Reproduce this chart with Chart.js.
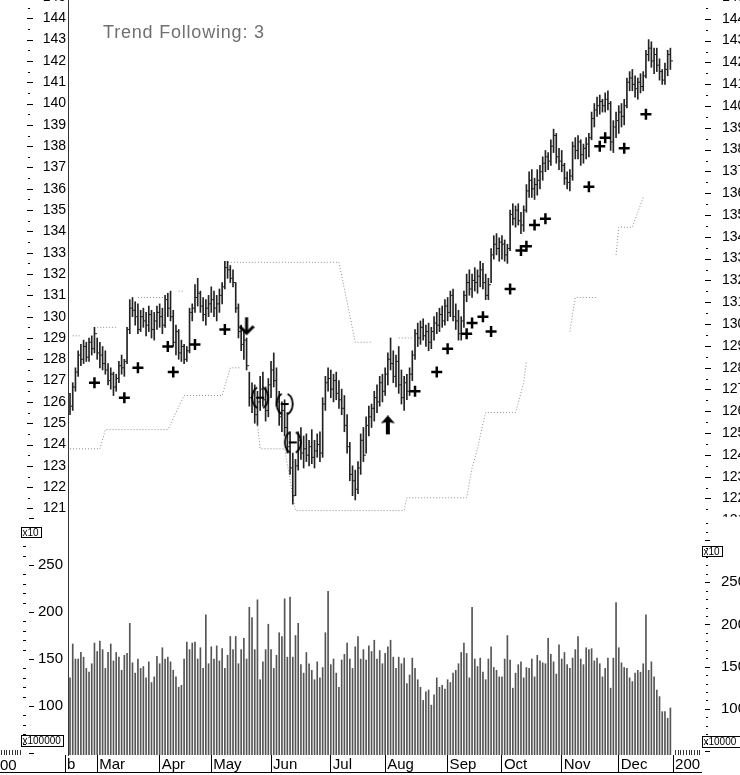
<!DOCTYPE html>
<html>
<head>
<meta charset="utf-8">
<title>Trend Following: 3</title>
<script src="https://cdn.jsdelivr.net/npm/chart.js@4.4.1/dist/chart.umd.min.js"></script>
<style>
  html, body { margin: 0; padding: 0; background: #fff; overflow: hidden; }
  #wrap { position: relative; width: 740px; height: 775px; overflow: hidden; background: #fff; }
  #price { position: absolute; left: 0; top: -3px; }
  #vol { position: absolute; left: 0; top: 517px; }
</style>
</head>
<body>
<div id="wrap">
  <canvas id="price" width="760" height="520"></canvas>
  <canvas id="vol" width="760" height="258"></canvas>
</div>
<script>
// month labels along the bottom, placed at the first trading day of each month
const months = ['b', 'Mar', 'Apr', 'May', 'Jun', 'Jul', 'Aug', 'Sep', 'Oct', 'Nov', 'Dec', '200'];
const monthStart = [-1.8, 10, 33, 52, 74, 96, 116, 139, 159, 181, 202, 222];

const priceTicks = [121, 122, 123, 124, 125, 126, 127, 128, 129, 130, 131, 132, 133,
  134, 135, 136, 137, 138, 139, 140, 141, 142, 143, 144, 145];
const volTicks = [100, 150, 200, 250];

// daily bars, mid Feb to end of Dec
const hi = [
  126.4, 126.9, 127.6, 128.4, 128.7, 128.9, 128.8, 129.0, 129.1, 129.5,
  129.0, 128.8, 128.6, 128.4, 127.8, 127.6, 127.4, 127.3, 127.9, 128.2, 128.0, 129.5, 130.8, 130.9, 130.7, 130.6, 130.3, 130.4, 130.2, 130.5, 130.3, 130.2, 130.5,
  130.6, 130.4, 131.0, 131.1, 131.2, 130.3, 129.6, 129.4, 128.9, 128.7, 128.6, 130.4, 130.6, 131.5, 131.8, 131.2, 130.9, 130.8, 131.0,
  131.4, 131.2, 131.0, 131.3, 131.6, 132.6, 132.6, 132.4, 132.2, 131.6, 130.6, 129.6, 129.3, 129.0, 127.4, 126.9, 126.8, 126.5, 127.2, 127.4, 126.7, 127.1,
  127.9, 128.3, 127.6, 126.5, 126.0, 126.1, 125.5, 124.6, 123.6, 123.3, 124.6, 124.8, 124.4, 124.5, 124.2, 124.7, 124.2, 124.5, 124.6, 126.2, 127.2, 127.6,
  127.5, 127.3, 127.4, 127.0, 126.6, 126.3, 125.4, 124.1, 123.0, 122.8, 123.2, 124.5, 124.8, 125.3, 125.8, 125.9, 126.5, 126.8, 127.2, 127.3,
  127.6, 128.3, 129.0, 128.4, 128.2, 128.6, 127.5, 127.2, 127.3, 127.6, 128.4, 129.4, 129.7, 129.8, 129.9, 129.6, 129.7, 129.5, 130.0, 130.2, 130.4, 130.5, 130.8,
  130.9, 131.2, 131.3, 130.6, 130.3, 130.0, 131.2, 132.0, 132.2, 132.0, 132.3, 132.2, 132.6, 132.5, 132.0, 131.8, 133.2, 133.8, 133.9, 133.7,
  133.8, 133.6, 133.4, 135.0, 135.3, 135.2, 135.3, 134.9, 135.2, 136.2, 136.8, 136.9, 136.5, 136.9, 137.1, 137.5, 137.8, 137.7, 138.3, 138.8, 138.6, 137.9,
  137.8, 137.2, 136.8, 136.9, 138.2, 138.4, 138.5, 138.3, 138.1, 138.4, 138.6, 139.6, 140.0, 140.3, 140.4, 140.2, 140.5, 140.6, 140.1, 139.2, 139.6,
  139.9, 140.0, 140.2, 141.2, 141.5, 141.6, 141.3, 141.2, 141.4, 141.5, 142.5, 143.0, 142.9, 142.6, 142.6, 142.1, 141.6, 141.9, 142.5, 142.6
];
const lo = [
  125.4, 125.6, 126.5, 127.2, 127.7, 127.8, 127.9, 127.9, 128.2, 128.3,
  128.0, 127.6, 127.5, 127.3, 126.8, 126.6, 126.3, 126.5, 126.9, 127.3, 127.2, 127.8, 129.2, 130.0, 129.6, 129.2, 129.3, 129.5, 129.1, 129.3, 129.0, 128.9, 129.4,
  129.5, 129.2, 129.5, 130.0, 129.8, 128.6, 128.2, 128.0, 127.9, 127.8, 127.9, 128.3, 129.8, 130.2, 130.5, 130.2, 129.8, 129.6, 130.0,
  130.2, 130.0, 129.8, 130.2, 130.6, 131.3, 131.8, 131.6, 131.4, 130.2, 129.0, 128.4, 128.0, 127.5, 125.8, 125.5, 125.0, 124.9, 125.6, 125.8, 125.1, 125.3,
  126.2, 126.7, 125.8, 124.9, 124.6, 124.4, 123.6, 122.6, 121.2, 121.6, 122.8, 123.3, 122.9, 123.2, 123.0, 123.1, 122.9, 123.4, 123.2, 123.4, 125.6, 126.5,
  126.2, 126.0, 126.1, 125.7, 125.4, 124.6, 123.6, 122.3, 121.6, 121.4, 121.7, 122.6, 123.2, 123.6, 124.4, 124.8, 125.1, 125.5, 125.8, 126.0,
  126.3, 126.8, 127.5, 126.9, 126.7, 126.4, 125.9, 125.6, 126.1, 126.3, 127.0, 128.0, 128.6, 128.7, 128.9, 128.6, 128.4, 128.5, 128.9, 129.2, 129.3, 129.5, 129.6,
  129.8, 130.0, 129.8, 129.4, 128.9, 128.9, 129.5, 130.7, 131.0, 130.9, 131.2, 131.1, 131.4, 131.3, 130.8, 130.8, 131.6, 132.7, 132.9, 132.6,
  132.7, 132.6, 132.5, 133.1, 134.3, 134.2, 134.3, 133.9, 134.0, 134.9, 135.6, 135.6, 135.5, 135.7, 136.0, 136.4, 136.8, 136.9, 137.1, 137.7, 137.2, 136.9,
  136.8, 136.2, 136.0, 135.9, 136.4, 137.4, 137.4, 137.1, 137.2, 137.4, 137.5, 138.3, 138.9, 139.4, 139.5, 139.6, 139.6, 139.7, 137.8, 137.7, 138.4,
  138.6, 138.9, 139.0, 139.8, 140.6, 140.6, 140.3, 140.2, 140.5, 140.6, 141.2, 142.0, 141.7, 141.4, 141.5, 141.1, 140.9, 140.9, 141.3, 141.6
];
const cl = [
  125.8, 126.7, 127.4, 128.2, 128.0, 128.6, 128.1, 128.8, 128.5, 129.2,
  128.3, 128.2, 127.8, 127.5, 127.0, 127.3, 126.7, 127.1, 127.7, 127.6, 127.9, 129.4, 130.4, 130.3, 130.0, 129.4, 130.0, 129.8, 129.6, 130.1, 129.4, 129.8, 130.2,
  130.0, 129.6, 130.8, 130.4, 130.0, 128.8, 129.3, 128.3, 128.6, 128.0, 128.4, 130.2, 130.4, 130.9, 131.1, 130.5, 130.1, 130.4, 130.6,
  130.8, 130.4, 130.6, 131.0, 131.4, 132.3, 132.2, 131.8, 131.6, 130.4, 129.3, 128.7, 128.9, 127.7, 126.2, 126.5, 125.4, 126.0, 126.6, 126.1, 125.6, 126.8,
  127.5, 127.0, 126.0, 125.3, 125.6, 124.8, 123.9, 122.9, 121.6, 123.0, 124.2, 123.6, 123.8, 123.5, 123.9, 123.4, 123.7, 124.0, 123.6, 125.9, 126.9, 127.1,
  126.6, 127.0, 126.4, 126.1, 125.7, 124.9, 123.9, 122.6, 122.3, 121.9, 122.9, 124.2, 123.5, 124.9, 125.3, 125.7, 126.2, 126.0, 126.9, 126.5,
  127.3, 128.0, 127.8, 127.2, 127.9, 126.8, 126.2, 126.9, 126.5, 127.3, 128.2, 129.2, 129.0, 129.5, 129.1, 129.3, 128.8, 129.3, 129.7, 129.6, 130.1, 129.8, 130.5,
  130.2, 131.0, 130.0, 129.8, 129.2, 129.8, 131.0, 131.6, 131.3, 131.7, 131.6, 131.9, 132.2, 131.6, 131.0, 131.5, 132.9, 133.4, 133.2, 133.5,
  133.4, 132.9, 133.2, 134.8, 134.6, 135.0, 134.5, 134.3, 135.0, 135.9, 136.4, 136.0, 136.2, 136.4, 136.8, 137.2, 137.5, 137.3, 138.0, 138.5, 137.5, 137.3,
  137.1, 136.5, 136.3, 136.6, 138.0, 137.8, 138.2, 137.6, 137.9, 138.1, 138.4, 139.3, 139.7, 139.9, 140.1, 139.9, 140.2, 140.0, 138.2, 138.9, 139.2,
  139.6, 139.4, 139.9, 141.0, 141.2, 140.9, 140.7, 141.0, 140.8, 141.3, 142.3, 142.6, 142.0, 142.3, 141.8, 141.5, 141.1, 141.6, 142.3, 142.0
];
// volume, x100000
const vol = [
  130, 166, 150, 150, 157, 152, 140, 136, 145, 167,
  158, 169, 160, 140, 157, 166, 148, 157, 152, 138, 154, 156, 188, 146, 135, 150, 140, 142, 130, 147, 125, 131, 153,
  145, 162, 150, 152, 147, 138, 131, 120, 122, 150, 168, 160, 167, 168, 150, 162, 140, 197, 145,
  163, 150, 164, 148, 161, 140, 154, 174, 160, 174, 145, 160, 172, 150, 205, 194, 160, 213, 128, 147, 160, 187,
  160, 140, 154, 178, 174, 214, 152, 216, 152, 175, 188, 144, 135, 157, 145, 138, 128, 147, 130, 141, 178, 222,
  144, 150, 135, 120, 149, 155, 167, 150, 140, 163, 174, 150, 160, 149, 164, 158, 170, 150, 159, 145,
  156, 163, 170, 152, 140, 152, 145, 151, 124, 133, 151, 140, 128, 120, 106, 115, 117, 101, 112, 130, 120, 122, 118,
  128, 125, 135, 138, 145, 157, 167, 156, 130, 205, 150, 142, 151, 136, 128, 150, 163, 141, 138, 131,
  131, 150, 175, 149, 119, 135, 144, 147, 130, 141, 140, 150, 131, 154, 148, 146, 145, 172, 155, 147, 134, 165,
  150, 157, 144, 140, 151, 160, 174, 150, 144, 162, 160, 161, 148, 151, 145, 131, 140, 151, 119, 151, 210,
  162, 146, 141, 140, 130, 126, 135, 138, 136, 145, 197, 138, 147, 131, 117, 110, 94, 94, 87, 98
];

// signals
const plusIdx = [9, 20, 25, 36, 38, 46, 57, 127, 135, 139, 146, 148, 152, 155, 162, 166, 168, 171, 175, 191, 195, 197, 204, 212];
const plusVal = [126.9, 126.2, 127.6, 128.6, 127.4, 128.7, 129.4, 126.5, 127.4, 128.5, 129.2, 129.7, 130.0, 129.3, 131.3, 133.1, 133.3, 134.3, 134.6, 136.1, 138.0, 138.4, 137.9, 139.5];
const exitIdx = [70, 79, 82];
const exitVal = [126.2, 125.9, 124.1];
const sellIdx = [65];
const sellVal = [129.55];
const buyIdx = [117];
const buyVal = [124.9];

// trailing stops (null = gap)
const stopLowIdx = [0, 11, 13, 36, 42, 56, 59, 63, 64, 69, 70, 79, 83, 123, 124, 146, 148, 150, 152, 153, 164, 167, 168, 169, 184, 186, 194, 195, 201, 202, 207, 211];
const stopLowVal = [123.8, 123.8, 124.7, 124.7, 126.3, 126.3, 127.6, 127.6, null, 125.0, 123.8, 123.8, 120.9, 120.9, 121.5, 121.5, 122.9, 123.8, 125.0, 125.5, 125.5, 126.9, 127.9, null, 129.3, 130.9, 130.9, null, 132.9, 134.2, 134.2, 135.6];
const stopHighIdx = [1, 4, 5, 10, 17, 18, 25, 35, 36, 40, 42, 43, 57, 99, 105, 111, 112, 121, 126];
const stopHighVal = [129.1, 129.1, null, 129.5, 129.5, null, 130.9, 130.9, null, 131.2, 131.2, null, 132.55, 132.55, 128.8, 128.8, null, 129.0, 129.0];

const FONT = "'Liberation Sans', Arial, sans-serif";
const X_MIN = -0.74, X_MAX = 231.9;

const pts = (xs, ys) => xs.map((x, k) => ({ x: x, y: ys[k] }));

function fixWidth(w) {
  return s => { s.width = w; s.paddingTop = 0; s.paddingBottom = 0; };
}
function setTicks(values) {
  return s => { s.ticks = values.map(v => ({ value: v })); };
}

function makeArrow(up) {
  const c = document.createElement('canvas');
  c.width = 16; c.height = 20;
  const g = c.getContext('2d');
  g.fillStyle = '#000'; g.strokeStyle = '#000';
  if (up) {
    g.beginPath();
    g.moveTo(8, 0); g.lineTo(15, 8); g.lineTo(10, 7); g.lineTo(10, 19);
    g.lineTo(6, 19); g.lineTo(6, 7); g.lineTo(1, 8); g.closePath();
    g.fill();
  } else {
    g.lineWidth = 3;
    g.beginPath(); g.moveTo(8, 1); g.lineTo(8, 17); g.stroke();
    g.beginPath(); g.moveTo(1, 10); g.lineTo(8, 17); g.lineTo(15, 10); g.stroke();
  }
  return c;
}
function makeExit() {
  const c = document.createElement('canvas');
  c.width = 22; c.height = 26;
  const g = c.getContext('2d');
  g.strokeStyle = '#000'; g.lineWidth = 1.8;
  g.beginPath(); g.ellipse(11, 13, 8, 11, 0, Math.PI * 0.62, Math.PI * 1.38); g.stroke();
  g.beginPath(); g.ellipse(11, 13, 8, 11, 0, -Math.PI * 0.38, Math.PI * 0.38); g.stroke();
  g.lineWidth = 2;
  g.beginPath(); g.moveTo(7, 13); g.lineTo(15, 13); g.stroke();
  return c;
}

function hline(ctx, x0, x1, y) {
  ctx.beginPath(); ctx.moveTo(x0, y); ctx.lineTo(x1, y); ctx.stroke();
}
function box(ctx, text, x, y, w, h) {
  ctx.strokeRect(x + 0.5, y + 0.5, w, h);
  ctx.font = '10px ' + FONT;
  ctx.textBaseline = 'middle';
  ctx.fillText(text, x + 1.5, y + h / 2 + 1);
}

const priceDecor = {
  id: 'priceDecor',
  afterDraw(chart) {
    const { ctx, scales } = chart;
    ctx.save();
    ctx.strokeStyle = '#000'; ctx.lineWidth = 1;
    for (let v = 121; v <= 145; v += 0.5) {
      const whole = Number.isInteger(v);
      hline(ctx, whole ? 27 : 28, whole ? 33 : 30, Math.round(scales.y.getPixelForValue(v)) + 0.5);
      hline(ctx, whole ? 705 : 706, whole ? 711 : 708, Math.round(scales.y2.getPixelForValue(v)) + 0.5);
    }
    ctx.fillStyle = '#707070';
    ctx.font = '18px ' + FONT;
    ctx.letterSpacing = '0.8px';
    ctx.textBaseline = 'alphabetic';
    ctx.fillText('Trend Following: 3', 103, 41);
    ctx.restore();
  }
};

const volDecor = {
  id: 'volDecor',
  afterDraw(chart) {
    const { ctx, scales } = chart;
    ctx.save();
    ctx.strokeStyle = '#000'; ctx.fillStyle = '#000'; ctx.lineWidth = 1;
    for (let v = 50; v <= 300; v += 10) {
      const major = v % 50 === 0;
      hline(ctx, major ? 29 : 23, major ? 34 : 26, Math.round(scales.y.getPixelForValue(v)) + 0.5);
    }
    for (let v = 50; v <= 320; v += 10) {
      const major = v % 50 === 0;
      hline(ctx, major ? 705 : 706, major ? 710 : 708, Math.round(scales.y2.getPixelForValue(v)) + 0.5);
    }
    box(ctx, 'x10', 21, 10, 20, 10);
    box(ctx, 'x100000', 21, 218, 42, 11);
    box(ctx, 'x10', 702, 29, 20, 10);
    box(ctx, 'x10000', 702, 219, 40, 11);
    // hatched strips either side of the data
    ctx.strokeStyle = '#333';
    for (let x = 1; x < 22; x += 2.7) {
      ctx.beginPath(); ctx.moveTo(Math.round(x) + 0.5, 233); ctx.lineTo(Math.round(x) + 0.5, 238); ctx.stroke();
    }
    for (let x = 675; x < 701; x += 2.7) {
      ctx.beginPath(); ctx.moveTo(Math.round(x) + 0.5, 233); ctx.lineTo(Math.round(x) + 0.5, 238); ctx.stroke();
    }
    ctx.strokeStyle = '#000';
    hline(ctx, 0, 702, 255.5);
    ctx.font = '15px ' + FONT;
    ctx.textBaseline = 'alphabetic';
    ctx.fillText('00', 0, 253);
    ctx.restore();
  }
};

const yTickFont = { family: FONT, size: 14 };

new Chart(document.getElementById('price'), {
  type: 'scatter',
  data: {
    datasets: [
      { type: 'scatter', data: pts(plusIdx, plusVal), pointStyle: 'cross', pointRadius: 5.5,
        borderColor: '#000', borderWidth: 2.5, order: 0 },
      { type: 'scatter', data: pts(sellIdx, sellVal), pointStyle: makeArrow(false), pointRadius: 8, order: 0 },
      { type: 'scatter', data: pts(buyIdx, buyVal), pointStyle: makeArrow(true), pointRadius: 8, order: 0 },
      { type: 'scatter', data: pts(exitIdx, exitVal), pointStyle: makeExit(), pointRadius: 10, order: 0 },
      { type: 'scatter', data: cl.map((c, i) => ({ x: i + 0.5, y: c })), pointStyle: 'line', pointRadius: 1.2,
        borderColor: '#222', borderWidth: 1, order: 1 },
      { type: 'bar', data: hi.map((h, i) => ({ x: i, y: [lo[i], h] })), backgroundColor: '#222',
        barThickness: 1, grouped: false, order: 2 },
      { type: 'line', data: pts(stopLowIdx, stopLowVal), borderColor: '#8c8c8c', borderWidth: 1,
        borderDash: [1, 2], pointRadius: 0, spanGaps: false, order: 3 },
      { type: 'line', data: pts(stopHighIdx, stopHighVal), borderColor: '#8c8c8c', borderWidth: 1,
        borderDash: [1, 2], pointRadius: 0, spanGaps: false, order: 3 }
    ]
  },
  options: {
    responsive: false,
    animation: false,
    events: [],
    layout: { padding: 0, autoPadding: false },
    plugins: { legend: { display: false }, tooltip: { enabled: false } },
    scales: {
      x: { type: 'linear', display: false, min: X_MIN, max: X_MAX, offset: false },
      y: {
        type: 'linear', position: 'left', min: 120.6, max: 145,
        afterBuildTicks: setTicks(priceTicks), afterFit: fixWidth(68),
        grid: { display: false, drawTicks: false },
        border: { display: true, color: '#333', width: 1 },
        ticks: { color: '#000', font: yTickFont, padding: 2 }
      },
      y2: {
        type: 'linear', position: 'right', min: 121.15, max: 145,
        afterBuildTicks: setTicks(priceTicks), afterFit: fixWidth(60),
        grid: { display: false, drawTicks: false },
        border: { display: false },
        ticks: { color: '#000', font: yTickFont, padding: 22 }
      }
    }
  },
  plugins: [priceDecor]
});

new Chart(document.getElementById('vol'), {
  type: 'scatter',
  data: {
    datasets: [
      { type: 'bar', data: vol.map((v, i) => ({ x: i, y: v })), backgroundColor: '#555',
        barThickness: 1, grouped: false }
    ]
  },
  options: {
    responsive: false,
    animation: false,
    events: [],
    layout: { padding: 0, autoPadding: false },
    plugins: { legend: { display: false }, tooltip: { enabled: false } },
    scales: {
      x: {
        type: 'linear', position: 'bottom', min: X_MIN, max: X_MAX, offset: false,
        afterBuildTicks: setTicks(monthStart),
        afterFit: s => { s.height = 20; s.paddingLeft = 0; s.paddingRight = 0; },
        grid: { display: true, drawOnChartArea: false, drawTicks: true, tickLength: 17, color: '#000', offset: false },
        border: { display: false },
        ticks: {
          callback: (v, k) => months[k],
          align: 'start', labelOffset: 2, padding: -16, maxRotation: 0, autoSkip: false,
          color: '#000', font: { family: FONT, size: 15 }
        }
      },
      y: {
        type: 'linear', position: 'left', min: 47.9, max: 301.1,
        afterBuildTicks: setTicks(volTicks), afterFit: fixWidth(68),
        grid: { display: false, drawTicks: false },
        border: { display: true, color: '#333', width: 1 },
        ticks: { color: '#000', font: { family: FONT, size: 15 }, padding: 5 }
      },
      y2: {
        type: 'linear', position: 'right', min: 45.3, max: 327.3,
        afterBuildTicks: setTicks(volTicks), afterFit: fixWidth(60),
        grid: { display: false, drawTicks: false },
        border: { display: false },
        ticks: { color: '#000', font: { family: FONT, size: 15 }, padding: 21 }
      }
    }
  },
  plugins: [volDecor]
});
</script>
</body>
</html>
